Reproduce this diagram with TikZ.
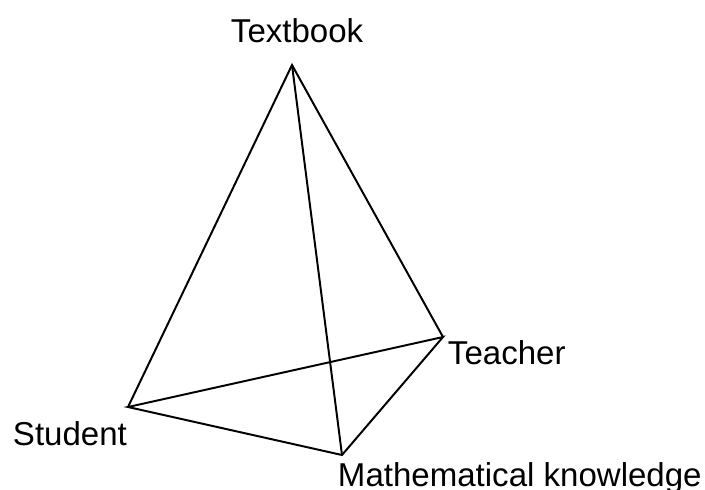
\documentclass[tikz,border=0pt]{standalone}
\usepackage{fontspec}
\setmainfont{Liberation Sans}
\begin{document}
\begin{tikzpicture}[x=0.025cm,y=-0.025cm,line width=1.4pt,
  vlabel/.style={anchor=base west,inner sep=0pt,font=\fontsize{23.5}{28}\selectfont}]
\useasboundingbox (0,0) rectangle (705,489);
% corners of the tetrahedron
\coordinate (textbook) at (292,65);
\coordinate (teacher) at (443,337);
\coordinate (student) at (128,407);
\coordinate (math) at (342,455);
% edges
\draw (student) -- (textbook) -- (teacher);
\draw (textbook) -- (math);
\draw (student) -- (teacher) -- (math) -- cycle;
% labels
\node[vlabel] (textbooklabel) at (230,42) {Textbook};
\node[vlabel] (teacherlabel) at (447,364) {Teacher};
\node[vlabel] (studentlabel) at (12,445) {Student};
\node[vlabel] (mathlabel) at (337,486) {Mathematical knowledge};
\end{tikzpicture}
\end{document}
